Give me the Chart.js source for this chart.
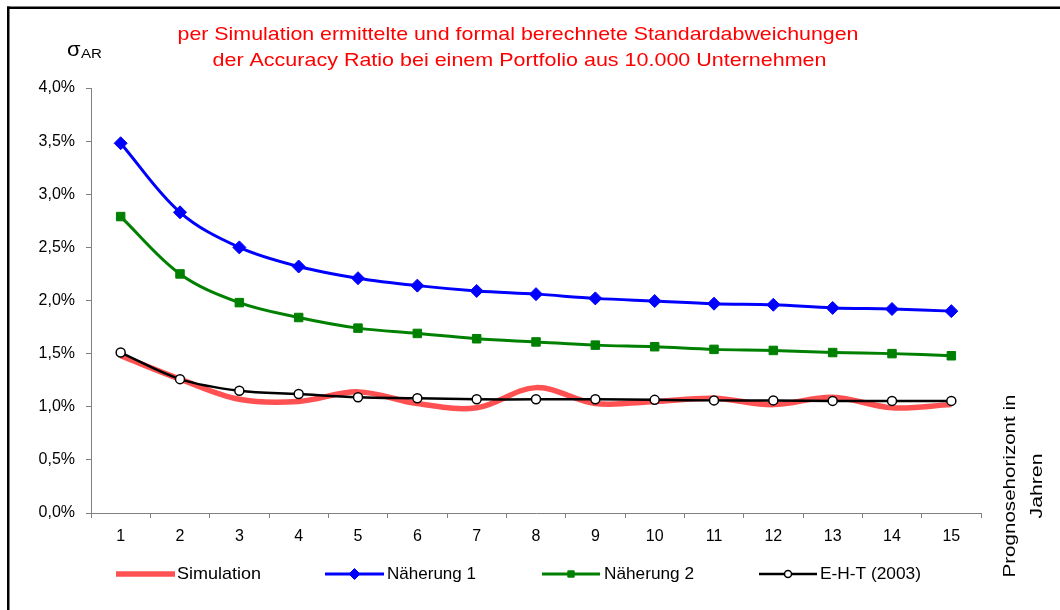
<!DOCTYPE html>
<html>
<head>
<meta charset="utf-8">
<script src="https://cdn.jsdelivr.net/npm/chart.js@4.4.1/dist/chart.umd.min.js"></script>
<style>
  html, body { margin: 0; padding: 0; background: #ffffff; }
  #wrap { width: 1060px; height: 610px; position: relative; }
</style>
</head>
<body>
<div id="wrap"><canvas id="c" width="1060" height="610"></canvas></div>
<script>
// ---- data (values in percent) ----
const categories = ['1','2','3','4','5','6','7','8','9','10','11','12','13','14','15'];
const simulation = [1.48, 1.26, 1.07, 1.05, 1.14, 1.03, 0.99, 1.18, 1.03, 1.05, 1.08, 1.02, 1.09, 0.99, 1.02];
const naeherung1 = [3.48, 2.83, 2.50, 2.32, 2.21, 2.14, 2.09, 2.06, 2.02, 1.995, 1.97, 1.96, 1.93, 1.92, 1.90];
const naeherung2 = [2.79, 2.25, 1.98, 1.84, 1.74, 1.69, 1.64, 1.61, 1.58, 1.565, 1.54, 1.53, 1.51, 1.50, 1.48];
const eht = [1.51, 1.26, 1.15, 1.12, 1.09, 1.08, 1.07, 1.07, 1.07, 1.065, 1.06, 1.06, 1.055, 1.055, 1.055];
const seriesNames = ['Simulation', 'Näherung 1', 'Näherung 2', 'E-H-T (2003)'];
const titleLines = ['per Simulation ermittelte und formal berechnete Standardabweichungen',
                    'der Accuracy Ratio bei einem Portfolio aus 10.000 Unternehmen'];
const xAxisTitleLines = ['Prognosehorizont in', 'Jahren'];
const yMin = 0, yMax = 4, yStep = 0.5;

const FONT = '"Liberation Sans", Arial, sans-serif';

function drawStretched(ctx, text, x, y, size, targetWidth, align) {
  ctx.save();
  ctx.font = size + 'px ' + FONT;
  const w = ctx.measureText(text).width;
  const s = targetWidth ? targetWidth / w : 1;
  ctx.translate(x, y);
  ctx.scale(s, 1);
  ctx.textAlign = align || 'left';
  ctx.fillText(text, 0, 0);
  ctx.restore();
}

const decor = {
  id: 'decor',
  afterDraw(chart) {
    const ctx = chart.ctx;
    ctx.save();
    // outer frame (top + left visible)
    ctx.fillStyle = '#000';
    ctx.fillRect(7, 6.5, 1053, 2.5);
    ctx.fillRect(7, 6.5, 2.5, 604);

    // title
    ctx.fillStyle = '#FF0000';
    ctx.textBaseline = 'alphabetic';
    drawStretched(ctx, titleLines[0], 518, 39.5, 19, 681, 'center');
    drawStretched(ctx, titleLines[1], 519.5, 65.5, 19, 614, 'center');

    // y label sigma_AR
    ctx.fillStyle = '#000';
    drawStretched(ctx, 'σ', 67, 56, 20, 13.5, 'left');
    drawStretched(ctx, 'AR', 81, 58, 12.5, 21, 'left');

    // rotated x-axis title at right
    ctx.save();
    ctx.translate(1011, 486);
    ctx.rotate(-Math.PI / 2);
    ctx.textBaseline = 'middle';
    drawStretched(ctx, xAxisTitleLines[0], 0, 0, 16, 183, 'center');
    drawStretched(ctx, xAxisTitleLines[1], 0, 27, 16, 65, 'center');
    ctx.restore();

    // legend
    const items = [
      {x1: 116, x2: 175, tx: 177, tw: 84},
      {x1: 325, x2: 384, tx: 387, tw: 89},
      {x1: 542, x2: 600, tx: 604, tw: 90},
      {x1: 759, x2: 817, tx: 820, tw: 101}
    ];
    const ly = 574;
    chart.data.datasets.forEach((ds, i) => {
      const it = items[i];
      ctx.save();
      ctx.strokeStyle = ds.borderColor;
      ctx.lineWidth = ds.borderWidth;
      ctx.beginPath();
      ctx.moveTo(it.x1, ly);
      ctx.lineTo(it.x2, ly);
      ctx.stroke();
      ctx.restore();
      if (ds.pointStyle && ds.pointRadius > 0) {
        ctx.save();
        ctx.fillStyle = ds.pointBackgroundColor;
        ctx.strokeStyle = ds.pointBorderColor;
        ctx.lineWidth = ds.pointBorderWidth;
        Chart.helpers.drawPoint(ctx, {
          pointStyle: ds.pointStyle,
          radius: i === 3 ? 3.5 : (i === 1 ? 5.5 : 4.5),
          borderWidth: ds.pointBorderWidth
        }, (it.x1 + it.x2) / 2, ly);
        ctx.restore();
      }
      ctx.fillStyle = '#000';
      ctx.textBaseline = 'middle';
      drawStretched(ctx, ds.label, it.tx, ly, 17, it.tw, 'left');
    });
    ctx.restore();
  }
};

const ctx = document.getElementById('c').getContext('2d');
const chart = new Chart(ctx, {
  type: 'line',
  data: {
    labels: categories,
    datasets: [
      {
        label: seriesNames[0], data: simulation,
        borderColor: 'rgba(255,50,50,0.85)', borderWidth: 5.5,
        pointRadius: 0, pointStyle: false, tension: 0.35, order: 4
      },
      {
        label: seriesNames[1], data: naeherung1,
        borderColor: '#0000FF', borderWidth: 3,
        pointStyle: 'rectRot', pointRadius: 6.5,
        pointBackgroundColor: '#0000FF', pointBorderColor: '#0000FF', pointBorderWidth: 1,
        tension: 0.35, order: 3
      },
      {
        label: seriesNames[2], data: naeherung2,
        borderColor: '#008000', borderWidth: 3,
        pointStyle: 'rect', pointRadius: 6,
        pointBackgroundColor: '#008000', pointBorderColor: '#008000', pointBorderWidth: 1,
        tension: 0.35, order: 2
      },
      {
        label: seriesNames[3], data: eht,
        borderColor: '#000000', borderWidth: 2.5,
        pointStyle: 'circle', pointRadius: 4.5,
        pointBackgroundColor: '#FFFFFF', pointBorderColor: '#000000', pointBorderWidth: 1.5,
        tension: 0.35, order: 1
      }
    ]
  },
  options: {
    responsive: false,
    animation: false,
    devicePixelRatio: 1,
    layout: { padding: { left: 0, top: 88, right: 79, bottom: 57 } },
    plugins: { legend: { display: false }, title: { display: false }, tooltip: { enabled: false } },
    scales: {
      x: {
        type: 'category',
        offset: true,
        grid: { offset: true, drawOnChartArea: false, drawTicks: true, tickLength: 5, color: '#808080', lineWidth: 1 },
        border: { display: true, color: '#808080', width: 1 },
        ticks: { color: '#000', font: { family: FONT, size: 16 }, padding: 9, maxRotation: 0, autoSkip: false },
        afterFit(axis) { axis.height = 40; }
      },
      y: {
        min: yMin, max: yMax,
        grid: { drawOnChartArea: false, drawTicks: true, tickLength: 5, color: '#808080', lineWidth: 1 },
        border: { display: true, color: '#808080', width: 1 },
        ticks: {
          stepSize: yStep, color: '#000', font: { family: FONT, size: 16 }, padding: 11,
          callback: v => v.toFixed(1).replace('.', ',') + '%'
        },
        afterFit(axis) { axis.width = 91; }
      }
    }
  },
  plugins: [decor]
});
</script>
</body>
</html>
